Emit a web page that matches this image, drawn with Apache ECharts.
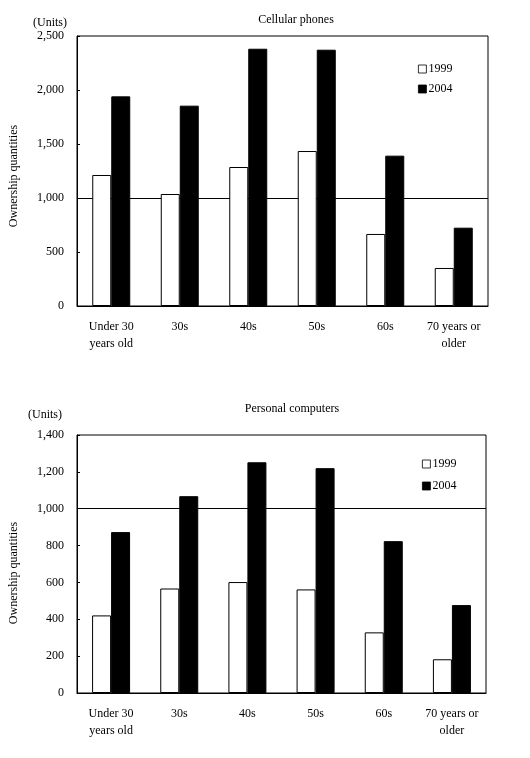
<!DOCTYPE html>
<html><head><meta charset="utf-8">
<script src="https://cdn.jsdelivr.net/npm/echarts@6/dist/echarts.min.js"></script>
<style>html,body{margin:0;padding:0;background:#fff}#c{width:530px;height:758px}</style>
</head><body><div id="c"></div>
<script>
const categories = ['Under 30\nyears old', '30s', '40s', '50s', '60s', '70 years or\nolder'];
const phones1999 = [1213, 1037, 1287, 1435, 667, 352];
const phones2004 = [1941, 1855, 2382, 2373, 1392, 725];
const pc1999 = [421, 567, 602, 562, 329, 183];
const pc2004 = [873, 1068, 1252, 1220, 824, 477];
const phoneTicks = {min: 0, max: 2500, interval: 500};
const pcTicks = {min: 0, max: 1400, interval: 200};
const refValue = 1000;

const FONT = 'Liberation Serif';
const txt = {color: '#000', fontFamily: FONT, fontSize: 12};
const fmt = v => v.toLocaleString('en-US');

function xAxis(gi) {
  return {
    type: 'category', gridIndex: gi, data: categories,
    axisLine: {lineStyle: {color: '#000', width: 1}},
    axisTick: {inside: true, length: 4, lineStyle: {color: '#000'}},
    axisLabel: Object.assign({margin: 12, lineHeight: 17, interval: 0}, txt)
  };
}
function yAxis(gi, t) {
  return {
    type: 'value', gridIndex: gi, min: t.min, max: t.max, interval: t.interval,
    axisLine: {show: true, lineStyle: {color: '#000', width: 1}},
    axisTick: {show: true, inside: true, length: 3, lineStyle: {color: '#000'}},
    splitLine: {show: false},
    axisLabel: Object.assign({margin: 13, formatter: fmt}, txt)
  };
}
function bars(name, data, gi, color, withRef) {
  const s = {
    name: name, type: 'bar', xAxisIndex: gi, yAxisIndex: gi, data: data,
    barWidth: 19, barGap: '0%', z: 3,
    itemStyle: {color: color, borderColor: '#000', borderWidth: 1},
    emphasis: {disabled: true}, animation: false
  };
  if (withRef) {
    s.markLine = {
      z: 1, silent: true, symbol: ['none', 'none'], label: {show: false},
      lineStyle: {color: '#000', width: 1, type: 'solid'},
      data: [{yAxis: refValue}], animation: false
    };
  }
  return s;
}
function legend(top, left, gap) {
  return {
    orient: 'vertical', top: top, left: left, itemWidth: 8, itemHeight: 8,
    itemGap: gap, icon: 'rect', data: ['1999', '2004'],
    itemStyle: {borderWidth: 0.8},
    textStyle: Object.assign({padding: [0, 0, 0, -3]}, txt), selectedMode: false
  };
}

const chart = echarts.init(document.getElementById('c'), null, {renderer: 'canvas'});
chart.setOption({
  animation: false,
  backgroundColor: '#fff',
  grid: [
    {left: 77, top: 36, width: 411, height: 270, show: true, borderColor: '#000', borderWidth: 1, backgroundColor: 'transparent'},
    {left: 77, top: 435, width: 409, height: 258, show: true, borderColor: '#000', borderWidth: 1, backgroundColor: 'transparent'}
  ],
  title: [
    {text: 'Cellular phones', left: 291, top: 9, textAlign: 'center', textStyle: Object.assign({fontWeight: 'normal'}, txt)},
    {text: 'Personal computers', left: 287, top: 398, textAlign: 'center', textStyle: Object.assign({fontWeight: 'normal'}, txt)}
  ],
  legend: [legend(58, 413, 8), legend(453, 417, 10)],
  xAxis: [xAxis(0), xAxis(1)],
  yAxis: [yAxis(0, phoneTicks), yAxis(1, pcTicks)],
  graphic: [
    {type: 'text', left: 33, top: 17, style: {text: '(Units)', fill: '#000', font: '12px ' + FONT}},
    {type: 'text', left: 28, top: 409, style: {text: '(Units)', fill: '#000', font: '12px ' + FONT}},
    {type: 'text', x: 14, y: 176, rotation: Math.PI / 2, style: {text: 'Ownership quantities', fill: '#000', font: '12px ' + FONT, align: 'center', verticalAlign: 'middle'}},
    {type: 'text', x: 14, y: 573, rotation: Math.PI / 2, style: {text: 'Ownership quantities', fill: '#000', font: '12px ' + FONT, align: 'center', verticalAlign: 'middle'}}
  ],
  series: [
    bars('1999', phones1999, 0, '#fff', true),
    bars('2004', phones2004, 0, '#000', false),
    bars('1999', pc1999, 1, '#fff', true),
    bars('2004', pc2004, 1, '#000', false)
  ]
});
</script></body></html>
